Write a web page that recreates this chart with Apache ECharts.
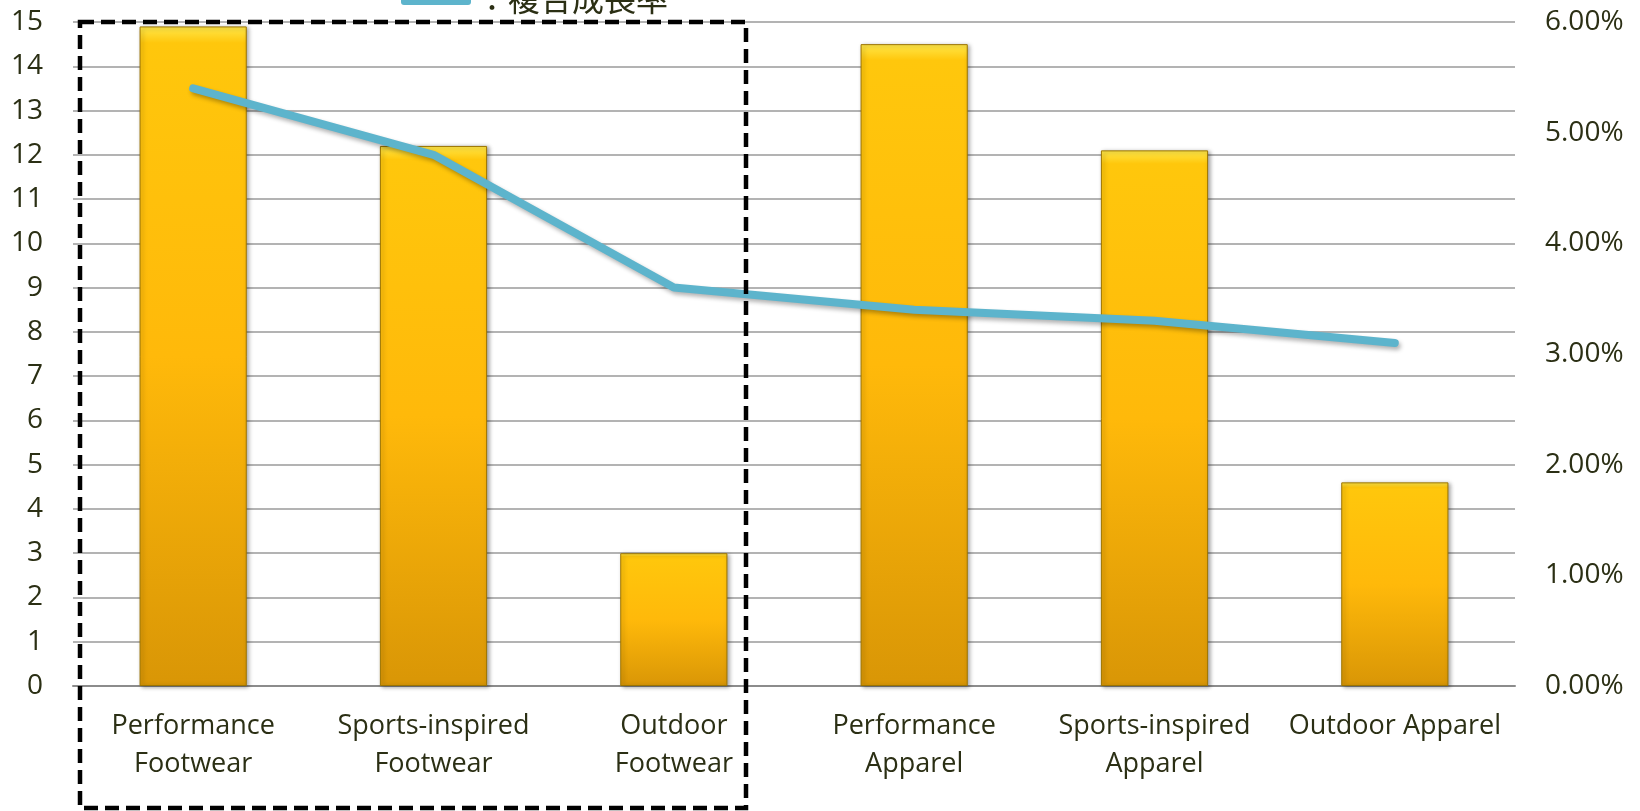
<!DOCTYPE html>
<html>
<head>
<meta charset="utf-8">
<script src="https://cdn.jsdelivr.net/npm/echarts@6/dist/echarts.min.js"></script>
<style>
html,body{margin:0;padding:0;background:#fff;}
#main{width:1640px;height:811px;}
</style>
</head>
<body>
<div id="main"></div>
<script>
var categories = ['Performance\nFootwear', 'Sports-inspired\nFootwear', 'Outdoor\nFootwear', 'Performance\nApparel', 'Sports-inspired\nApparel', 'Outdoor Apparel'];
var barValues = [14.9, 12.2, 3.0, 14.5, 12.1, 4.6];
var growthRates = [0.054, 0.048, 0.036, 0.034, 0.033, 0.031];
var leftTicks = {min: 0, max: 15, interval: 1};
var rightTicks = {min: 0, max: 0.06, interval: 0.01};
var lineName = '：複合成長率';

var textColor = '#2b2f14';
var fontFam = '"Open Sans", "Noto Sans", sans-serif';

var chart = echarts.init(document.getElementById('main'));
chart.setOption({
  animation: false,
  backgroundColor: '#ffffff',
  grid: {left: 73, right: 125, top: 22, bottom: 125},
  legend: {
    data: [{name: lineName, icon: 'roundRect'}],
    left: 396, top: -22,
    itemWidth: 70, itemHeight: 12, itemGap: 6,
    textStyle: {fontSize: 32, lineHeight: 32, color: textColor, fontFamily: '"Noto Sans CJK TC", sans-serif'}
  },
  xAxis: {
    type: 'category',
    data: categories,
    axisLine: {show: true, lineStyle: {color: '#8c8c8c', width: 2}},
    axisTick: {show: false},
    axisLabel: {color: textColor, fontSize: 27, lineHeight: 38, margin: 21, fontFamily: fontFam, interval: 0}
  },
  yAxis: [{
    type: 'value',
    min: leftTicks.min, max: leftTicks.max, interval: leftTicks.interval,
    axisLine: {show: false}, axisTick: {show: false},
    axisLabel: {color: textColor, fontSize: 28, margin: 30, fontFamily: fontFam},
    splitLine: {lineStyle: {color: '#b3b3b3', width: 2}}
  }, {
    type: 'value',
    min: rightTicks.min, max: rightTicks.max, interval: rightTicks.interval,
    axisLine: {show: false}, axisTick: {show: false},
    splitLine: {show: false},
    axisLabel: {color: textColor, fontSize: 28, margin: 30, fontFamily: fontFam,
      formatter: function (v) { return (v * 100).toFixed(2) + '%'; }}
  }],
  series: [{
    type: 'bar',
    data: barValues,
    barWidth: '44.6%',
    itemStyle: {
      color: new echarts.graphic.LinearGradient(0, 0, 0, 1, [
        {offset: 0, color: '#ffe84a'},
        {offset: 0.025, color: '#ffc70c'},
        {offset: 0.5, color: '#ffb90a'},
        {offset: 1, color: '#d99606'}
      ]),
      borderColor: '#9c7400', borderWidth: 1,
      shadowColor: 'rgba(0,0,0,0.35)', shadowBlur: 4, shadowOffsetX: 2, shadowOffsetY: 1
    }
  }, {
    type: 'line',
    name: lineName,
    yAxisIndex: 1,
    data: growthRates,
    symbol: 'none',
    z: 5,
    itemStyle: {color: '#5db4cc'},
    lineStyle: {color: '#5db4cc', width: 8, cap: 'round', join: 'round',
      shadowColor: 'rgba(0,0,0,0.3)', shadowBlur: 4, shadowOffsetX: 2, shadowOffsetY: 3}
  }],
  graphic: [{
    type: 'rect',
    z: 100,
    shape: {x: 80, y: 22, width: 666, height: 786},
    style: {fill: 'none', stroke: '#000', lineWidth: 4.5, lineDash: [14, 7]}
  }]
});
</script>
</body>
</html>
